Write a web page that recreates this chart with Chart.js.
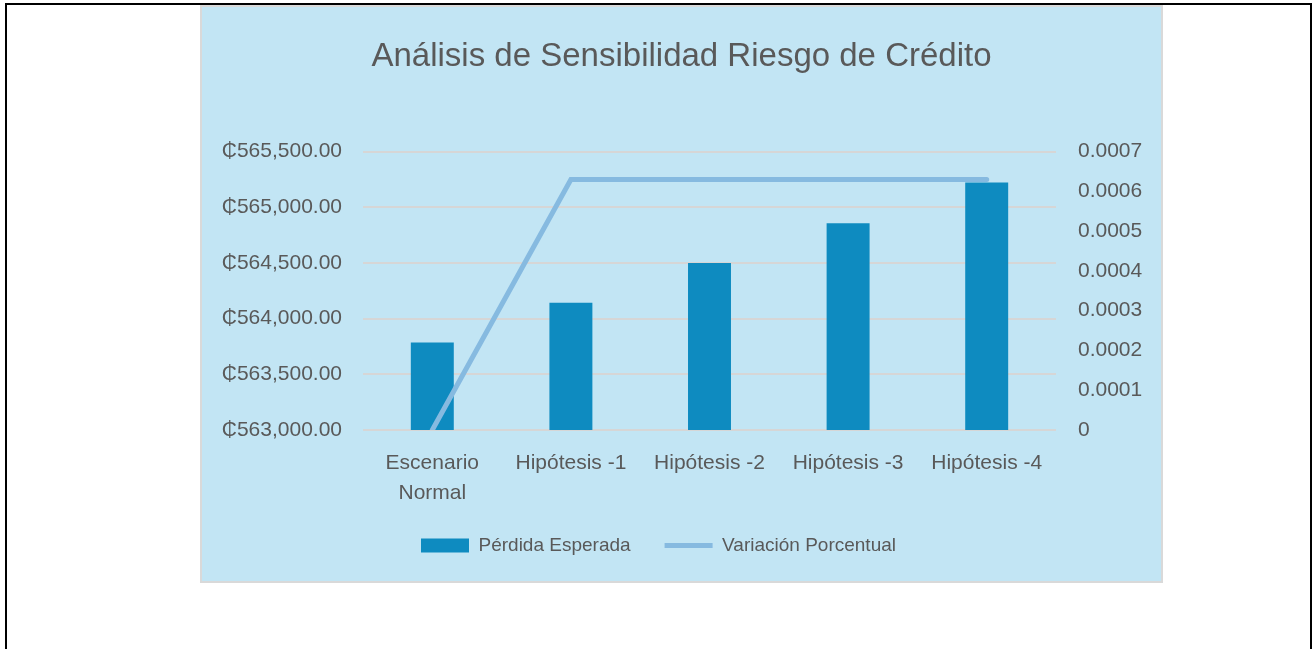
<!DOCTYPE html>
<html>
<head>
<meta charset="utf-8">
<script src="https://cdn.jsdelivr.net/npm/chart.js@4.4.1/dist/chart.umd.min.js"></script>
<style>
  html, body { margin: 0; padding: 0; background: #fff; width: 1316px; height: 649px; overflow: hidden; }
  #frame { position: absolute; left: 5px; top: 3px; width: 1303px; height: 700px; border: 2px solid #000; }
  #box { position: absolute; left: 200px; top: 5px; width: 963px; height: 578px; box-sizing: border-box;
         border: 2px solid #d9d9d9; background: #c2e5f4; }
  #box canvas { display: block; }
</style>
</head>
<body>
<div id="frame"></div>
<div id="box"><canvas id="chart" width="959" height="574"></canvas></div>
<script>
const categories = [['Escenario', 'Normal'], 'Hipótesis -1', 'Hipótesis -2', 'Hipótesis -3', 'Hipótesis -4'];
const perdidaEsperada = [563786, 564143, 564500, 564857, 565222];
const variacionPorcentual = [0, 0.00063, 0.00063, 0.00063, 0.00063];
const leftTicks = [563000, 563500, 564000, 564500, 565000, 565500];
const rightTicks = [0, 0.0001, 0.0002, 0.0003, 0.0004, 0.0005, 0.0006, 0.0007];

const textColor = '#595959';
const barColor = '#0e8bc0';
const lineColor = '#86bae0';

const fmtColon = v => '\u20B5' + v.toLocaleString('en-US', { minimumFractionDigits: 2, maximumFractionDigits: 2 });
const fmtRatio = v => v === 0 ? '0' : v.toFixed(4);

// legend sits a bit left of centre in the original
const legendShift = {
  id: 'legendShift',
  afterLayout(chart) {
    chart.legend.left -= 23;
    chart.legend.right -= 23;
  }
};

new Chart(document.getElementById('chart'), {
  data: {
    labels: categories,
    datasets: [
      {
        type: 'line',
        label: 'Variación Porcentual',
        data: variacionPorcentual,
        yAxisID: 'y1',
        borderColor: lineColor,
        backgroundColor: lineColor,
        borderWidth: 5,
        borderCapStyle: 'round',
        pointRadius: 0,
        pointStyle: 'line',
        tension: 0,
        order: 0
      },
      {
        type: 'bar',
        label: 'Pérdida Esperada',
        data: perdidaEsperada,
        yAxisID: 'y',
        backgroundColor: barColor,
        borderWidth: 0,
        pointStyle: 'rect',
        barPercentage: 0.31,
        categoryPercentage: 1,
        order: 1
      }
    ]
  },
  options: {
    responsive: false,
    animation: false,
    layout: { padding: { left: 0, right: 0, top: 0, bottom: 16 } },
    scales: {
      x: {
        grid: { display: false },
        border: { display: false },
        ticks: {
          color: textColor,
          padding: 11,
          maxRotation: 0,
          autoSkip: false,
          font: { family: "'Liberation Sans Narrow', 'Liberation Sans', sans-serif", size: 21, lineHeight: 1.4 }
        },
        afterFit: (axis) => { axis.height = 72; }
      },
      y: {
        position: 'left',
        min: 563000,
        max: 565500,
        afterBuildTicks: (axis) => { axis.ticks = leftTicks.map(v => ({ value: v })); },
        grid: { color: '#d6d6d6', lineWidth: 2, drawTicks: false },
        border: { display: false },
        ticks: {
          color: textColor,
          padding: 21,
          callback: v => fmtColon(v),
          font: { family: "'Liberation Sans', 'DejaVu Sans', sans-serif", size: 21 }
        },
        afterFit: (axis) => { axis.width = 161; }
      },
      y1: {
        position: 'right',
        min: 0,
        max: 0.0007,
        afterBuildTicks: (axis) => { axis.ticks = rightTicks.map(v => ({ value: v })); },
        grid: { display: false, drawTicks: false },
        border: { display: false },
        ticks: {
          color: textColor,
          padding: 22,
          callback: v => fmtRatio(v),
          font: { family: "'Liberation Sans', sans-serif", size: 21 }
        },
        afterFit: (axis) => { axis.width = 105; }
      }
    },
    plugins: {
      title: {
        display: true,
        text: 'Análisis de Sensibilidad Riesgo de Crédito',
        color: textColor,
        font: { family: "'Liberation Sans', sans-serif", size: 33, weight: 'normal' },
        padding: { top: 30, bottom: 75 }
      },
      legend: {
        position: 'bottom',
        reverse: true,
        labels: {
          color: textColor,
          usePointStyle: true,
          pointStyleWidth: 48,
          boxHeight: 14,
          padding: 34,
          font: { family: "'Liberation Sans', sans-serif", size: 19 }
        }
      },
      tooltip: { enabled: false }
    }
  },
  plugins: [legendShift]
});
</script>
</body>
</html>
